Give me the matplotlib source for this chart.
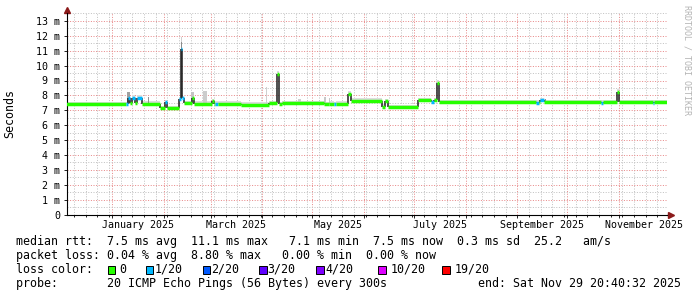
import matplotlib
matplotlib.use('Agg')
import matplotlib.pyplot as plt
import matplotlib.dates as mdates
from matplotlib.patches import Rectangle
import numpy as np
import pandas as pd

W, H = 697, 297
end_time = '2025-11-29 20:40:32'
start_time = pd.Timestamp(end_time) - pd.Timedelta(days=360)

# median rtt (ms), as steps: start of each step, value, loss bucket
seg_start = [
    '2024-12-01 00:00', '2025-01-09 02:00', '2025-01-10 14:00', '2025-01-11 19:00',
    '2025-01-13 00:00', '2025-01-14 12:00', '2025-01-15 17:00', '2025-01-18 17:00',
    '2025-01-29 12:00', '2025-02-01 19:00', '2025-02-03 00:00', '2025-02-09 22:00',
    '2025-02-11 02:00', '2025-02-12 00:00', '2025-02-12 22:00', '2025-02-17 17:00',
    '2025-02-18 22:00', '2025-03-02 00:00', '2025-03-02 22:00', '2025-03-03 19:00',
    '2025-03-05 14:00', '2025-03-19 10:00', '2025-04-05 05:00', '2025-04-10 00:00',
    '2025-04-11 05:00', '2025-04-13 00:00', '2025-05-08 05:00', '2025-05-11 05:00',
    '2025-05-14 05:00', '2025-05-15 10:00', '2025-05-22 07:00', '2025-05-24 05:00',
    '2025-06-12 00:00', '2025-06-13 19:00', '2025-06-15 07:00', '2025-07-03 07:00',
    '2025-07-11 10:00', '2025-07-12 22:00', '2025-07-15 00:00', '2025-07-16 05:00',
    '2025-09-12 07:00', '2025-09-13 22:00', '2025-09-14 19:00', '2025-09-16 22:00',
    '2025-10-21 07:00', '2025-10-22 10:00', '2025-10-31 00:00', '2025-11-01 00:00',
    '2025-11-21 10:00', '2025-11-22 07:00',
]
seg_median = [
    7.42, 7.42, 7.85, 7.47, 7.85, 7.47, 7.85, 7.45,
    7.15, 7.55, 7.15, 7.75, 11.1, 7.8, 7.47, 7.8,
    7.45, 7.6, 7.45, 7.45, 7.45, 7.38, 7.46, 9.45,
    7.4, 7.47, 7.4, 7.45, 7.42, 7.45, 8.1, 7.65,
    7.25, 7.6, 7.2, 7.66, 7.55, 7.66, 8.85, 7.55,
    7.5, 7.55, 7.68, 7.55, 7.5, 7.55, 8.25, 7.55,
    7.5, 7.55,
]
seg_loss = [
    0, 1, 1, 0, 1, 0, 1, 0,
    0, 1, 0, 1, 1, 1, 0, 0,
    0, 0, 0, 1, 0, 0, 0, 0,
    0, 0, 0, 0, 1, 0, 0, 0,
    0, 0, 0, 0, 1, 0, 0, 0,
    1, 0, 1, 0, 1, 0, 0, 0,
    1, 0,
]

# extra smoke (spread of the pings)
smoke_start = ['2025-01-10 00:00', '2025-01-22 12:00', '2025-02-11 02:00', '2025-02-11 02:00',
               '2025-02-17 12:00', '2025-02-24 08:00', '2025-04-03 00:00', '2025-04-22 12:00',
               '2025-05-08 05:00', '2025-05-11 05:00', '2025-09-17 12:00']
smoke_end = ['2025-01-11 12:00', '2025-01-23 06:00', '2025-02-12 00:00', '2025-02-12 00:00',
             '2025-02-19 00:00', '2025-02-27 00:00', '2025-04-04 00:00', '2025-04-24 08:00',
             '2025-05-09 08:00', '2025-05-11 20:00', '2025-09-18 06:00']
smoke_low = [7.45, 7.45, 11.1, 11.1, 7.45, 7.45, 7.45, 7.45, 7.4, 7.45, 7.55]
smoke_top = [8.2, 7.9, 11.95, 11.6, 8.25, 8.3, 8.55, 7.75, 7.9, 7.85, 7.75]
smoke_col = ['#a0a0a0', '#909090', '#cfcfcf', '#8c8c8c', '#c4c4c4', '#cccccc', '#d0d0d0',
             '#d0d0d0', '#c8c8c8', '#c8c8c8', '#909090']

loss_labels = ['0', '1/20', '2/20', '3/20', '4/20', '10/20', '19/20']
loss_colors = ['#26ff00', '#00b8ff', '#0059ff', '#5e00ff', '#7e00ff', '#dd00ff', '#ff0000']

month_labels = ['January 2025', 'March 2025', 'May 2025', 'July 2025',
                'September 2025', 'November 2025']
month_start = ['2025-01-01', '2025-03-01', '2025-05-01', '2025-07-01', '2025-09-01', '2025-11-01']

rtt_line = 'median rtt:  7.5 ms avg  11.1 ms max   7.1 ms min  7.5 ms now  0.3 ms sd  25.2   am/s'
loss_line = 'packet loss: 0.04 % avg  8.80 % max   0.00 % min  0.00 % now'
probe_line = 'probe:       20 ICMP Echo Pings (56 Bytes) every 300s'
end_line = 'end: Sat Nov 29 20:40:32 2025'

plt.rcParams['font.family'] = 'DejaVu Sans Mono'

fig = plt.figure(figsize=(W / 100, H / 100), dpi=100)
px_per_ms = 14.9
ymax = 13.55
ax = fig.add_axes([67 / W, 82.4 / H, 600 / W, ymax * px_per_ms / H])


def tonum(lst):
    return mdates.date2num(pd.to_datetime(lst, format='mixed').to_numpy())


xs = tonum(seg_start + [end_time])
med = np.array(seg_median)
med_ext = np.append(med, med[-1])

# base smoke band, mostly hidden under the median line
ax.fill_between(xs, med_ext + 0.02, med_ext + 0.17, step='post', color='#dddddd', lw=0, zorder=2)
ss, se = tonum(smoke_start), tonum(smoke_end)
for a, b, lo, hi, c in zip(ss, se, smoke_low, smoke_top, smoke_col):
    ax.fill_between([a, b], [lo, lo], [hi, hi], color=c, lw=0, zorder=2)

# step connectors (dark) and loss coloured median
ax.vlines(xs[1:-1], np.minimum(med[:-1], med[1:]), np.maximum(med[:-1], med[1:]),
          colors='#1e1e1e', lw=1.1, zorder=3)
ax.hlines(med, xs[:-1], xs[1:], colors=[loss_colors[l] for l in seg_loss],
          lw=2.5, zorder=4, capstyle='butt')

ax.set_xlim(mdates.date2num(start_time), tonum([end_time])[0])
ax.set_ylim(0, ymax)

ax.set_yticks(np.arange(0, 14, 1))
ax.set_yticks(np.arange(0.5, 13.6, 1), minor=True)
ax.set_yticklabels(['0'] + [f'{i} m' for i in range(1, 14)], fontsize=7.2)
ax.xaxis.set_major_locator(mdates.MonthLocator())
ax.xaxis.set_minor_locator(mdates.WeekdayLocator(byweekday=mdates.MO))
ax.tick_params(axis='x', labelbottom=False, which='major', length=2.2, width=0.6)
ax.tick_params(axis='x', which='minor', length=1.4, width=0.6)
ax.tick_params(axis='y', which='major', length=2, width=0.6, pad=3)
ax.tick_params(axis='y', which='minor', length=0)

ax.grid(which='minor', color='#c2c2c2', lw=0.72, linestyle=(0, (1, 1.6)))
ax.grid(which='major', color='#e88a8a', lw=0.72, linestyle=(0, (1, 1.6)))
ax.set_axisbelow(True)

for s in ['top', 'right']:
    ax.spines[s].set_visible(False)
for s in ['left', 'bottom']:
    ax.spines[s].set_linewidth(0.8)
    ax.spines[s].set_color('black')

# axis arrows
ax.plot([0, 0], [1, 1.02], transform=ax.transAxes, color='black', lw=0.8, clip_on=False)
ax.plot(0, 1.015, marker='^', ms=4, color='#8b1a1a', transform=ax.transAxes, clip_on=False)
ax.plot([1, 1.005], [0, 0], transform=ax.transAxes, color='black', lw=0.8, clip_on=False)
ax.plot(1.006, 0, marker='>', ms=4, color='#8b1a1a', transform=ax.transAxes, clip_on=False)

# month labels centred on the month
for m, lab in zip(pd.to_datetime(month_start), month_labels):
    nxt = m + pd.offsets.MonthBegin(1)
    mid = (mdates.date2num(m) + mdates.date2num(nxt)) / 2
    ax.text(mid, -10 / (ymax * px_per_ms), lab, transform=ax.get_xaxis_transform(),
            ha='center', va='center', fontsize=7.2)

fig.text(10 / W, 1 - 114 / H, 'Seconds', rotation=90, ha='center', va='center', fontsize=8.4)
fig.text(686.5 / W, 1 - 60 / H, 'RRDTOOL / TOBI OETIKER', rotation=270, ha='center',
         va='center', fontsize=6, color='#b4b4b4')

# legend block
fs = 8.4
fig.text(16 / W, 1 - 241 / H, rtt_line, va='center', fontsize=fs)
fig.text(16 / W, 1 - 255 / H, loss_line, va='center', fontsize=fs)
fig.text(16 / W, 1 - 269.5 / H, 'loss color:', va='center', fontsize=fs)
fig.text(16 / W, 1 - 283.3 / H, probe_line, va='center', fontsize=fs)
fig.text(681 / W, 1 - 283.3 / H, end_line, va='center', ha='right', fontsize=fs)

box_x = [107.5, 145.5, 202.5, 259, 316, 378, 442]
lab_x = [119, 155, 211.5, 267.5, 325, 390.5, 454.5]
for bx, lx, c, lab in zip(box_x, lab_x, loss_colors, loss_labels):
    fig.add_artist(Rectangle((bx / W, 1 - 273.5 / H), 7.5 / W, 7.5 / H, transform=fig.transFigure,
                             facecolor=c, edgecolor='black', lw=0.7))
    fig.text(lx / W, 1 - 269.5 / H, lab, va='center', fontsize=fs)

fig.savefig('out.png', dpi=100)
